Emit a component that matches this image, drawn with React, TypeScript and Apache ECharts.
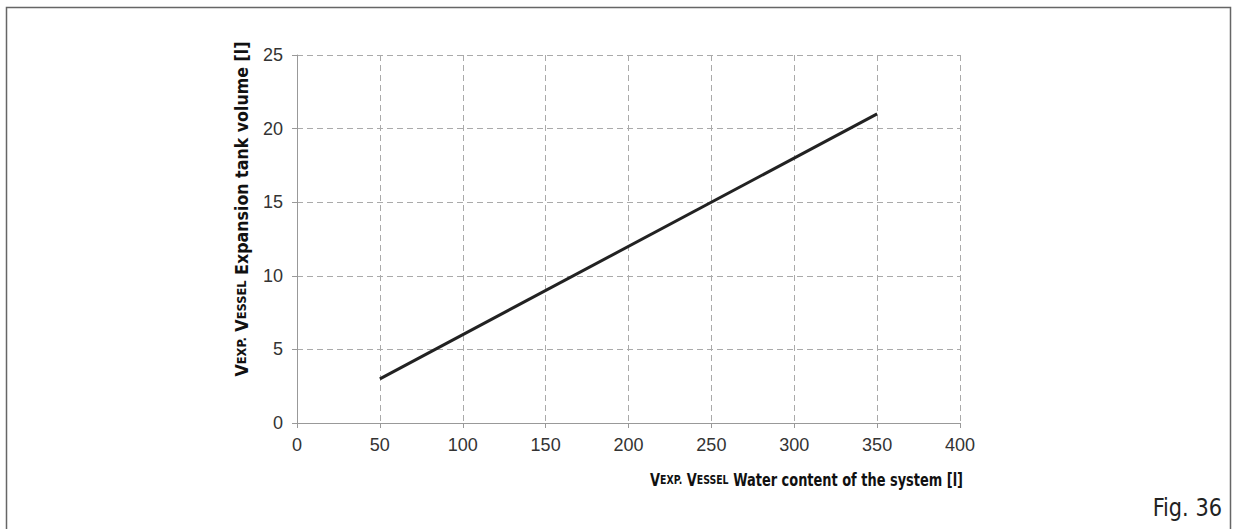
import React, { useEffect, useRef } from "react";
import * as echarts from "echarts";

const xValues = [50, 350];
const yValues = [3, 21];
const xTicks = { min: 0, max: 400, interval: 50 };
const yTicks = { min: 0, max: 25, interval: 5 };
const yTitle = ["V", "EXP.", "V", "ESSEL", "Expansion tank volume [l]"];
const xTitle = ["V", "EXP.", "V", "ESSEL", "Water content of the system [l]"];
const figLabel = "Fig. 36";

const titleFont = "DejaVu Sans Condensed";
const labelFont = "Liberation Sans";
const rich = {
  b: { fontFamily: titleFont, fontWeight: "bold", fontSize: 18, fill: "#111" },
  s: { fontFamily: titleFont, fontWeight: "bold", fontSize: 13, fill: "#111" },
};
const richText = (t: string[]) =>
  `{b|${t[0]}}{s|${t[1]}}{b| ${t[2]}}{s|${t[3]}}{b| ${t[4]}}`;

export default function App() {
  const ref = useRef<HTMLDivElement>(null);
  useEffect(() => {
    const chart = echarts.init(ref.current!, null, { renderer: "svg" });
    const axisCommon = {
      axisLine: { show: true, lineStyle: { color: "#999", width: 1 } },
      axisTick: { show: true, length: 5, lineStyle: { color: "#999" } },
      splitLine: { show: true, lineStyle: { color: "#aaa", type: [6, 4], width: 1 } },
      axisLabel: { color: "#333", fontSize: 18, fontFamily: labelFont },
    };
    chart.setOption({
      animation: false,
      backgroundColor: "#fff",
      grid: { left: 297, right: 277, top: 55, bottom: 106 },
      xAxis: {
        type: "value",
        ...xTicks,
        ...axisCommon,
        axisLabel: { ...axisCommon.axisLabel, margin: 13 },
      },
      yAxis: {
        type: "value",
        ...yTicks,
        ...axisCommon,
        axisLabel: { ...axisCommon.axisLabel, margin: 14 },
      },
      series: [
        {
          type: "line",
          data: xValues.map((x, i) => [x, yValues[i]]),
          symbol: "none",
          lineStyle: { color: "#222", width: 3 },
        },
      ],
      graphic: [
        {
          type: "rect",
          shape: { x: 6.5, y: 7.5, width: 1224, height: 540 },
          style: { fill: "none", stroke: "#666", lineWidth: 1.5 },
          silent: true,
        },
        {
          type: "text",
          x: 241,
          y: 209,
          rotation: Math.PI / 2,
          scaleX: 0.98,
          style: {
            text: richText(yTitle),
            rich,
            align: "center",
            verticalAlign: "middle",
          },
        },
        {
          type: "text",
          x: 963,
          y: 480,
          scaleX: 0.8,
          style: {
            text: richText(xTitle),
            rich,
            align: "right",
            verticalAlign: "middle",
          },
        },
        {
          type: "text",
          x: 1222,
          y: 508,
          scaleX: 0.93,
          style: {
            text: figLabel,
            fontFamily: titleFont,
            fontSize: 25,
            fill: "#222",
            align: "right",
            verticalAlign: "middle",
          },
        },
      ],
    });
    return () => chart.dispose();
  }, []);
  return (
    <div
      ref={ref}
      style={{ position: "fixed", left: 0, top: 0, width: 1237, height: 529 }}
    />
  );
}
